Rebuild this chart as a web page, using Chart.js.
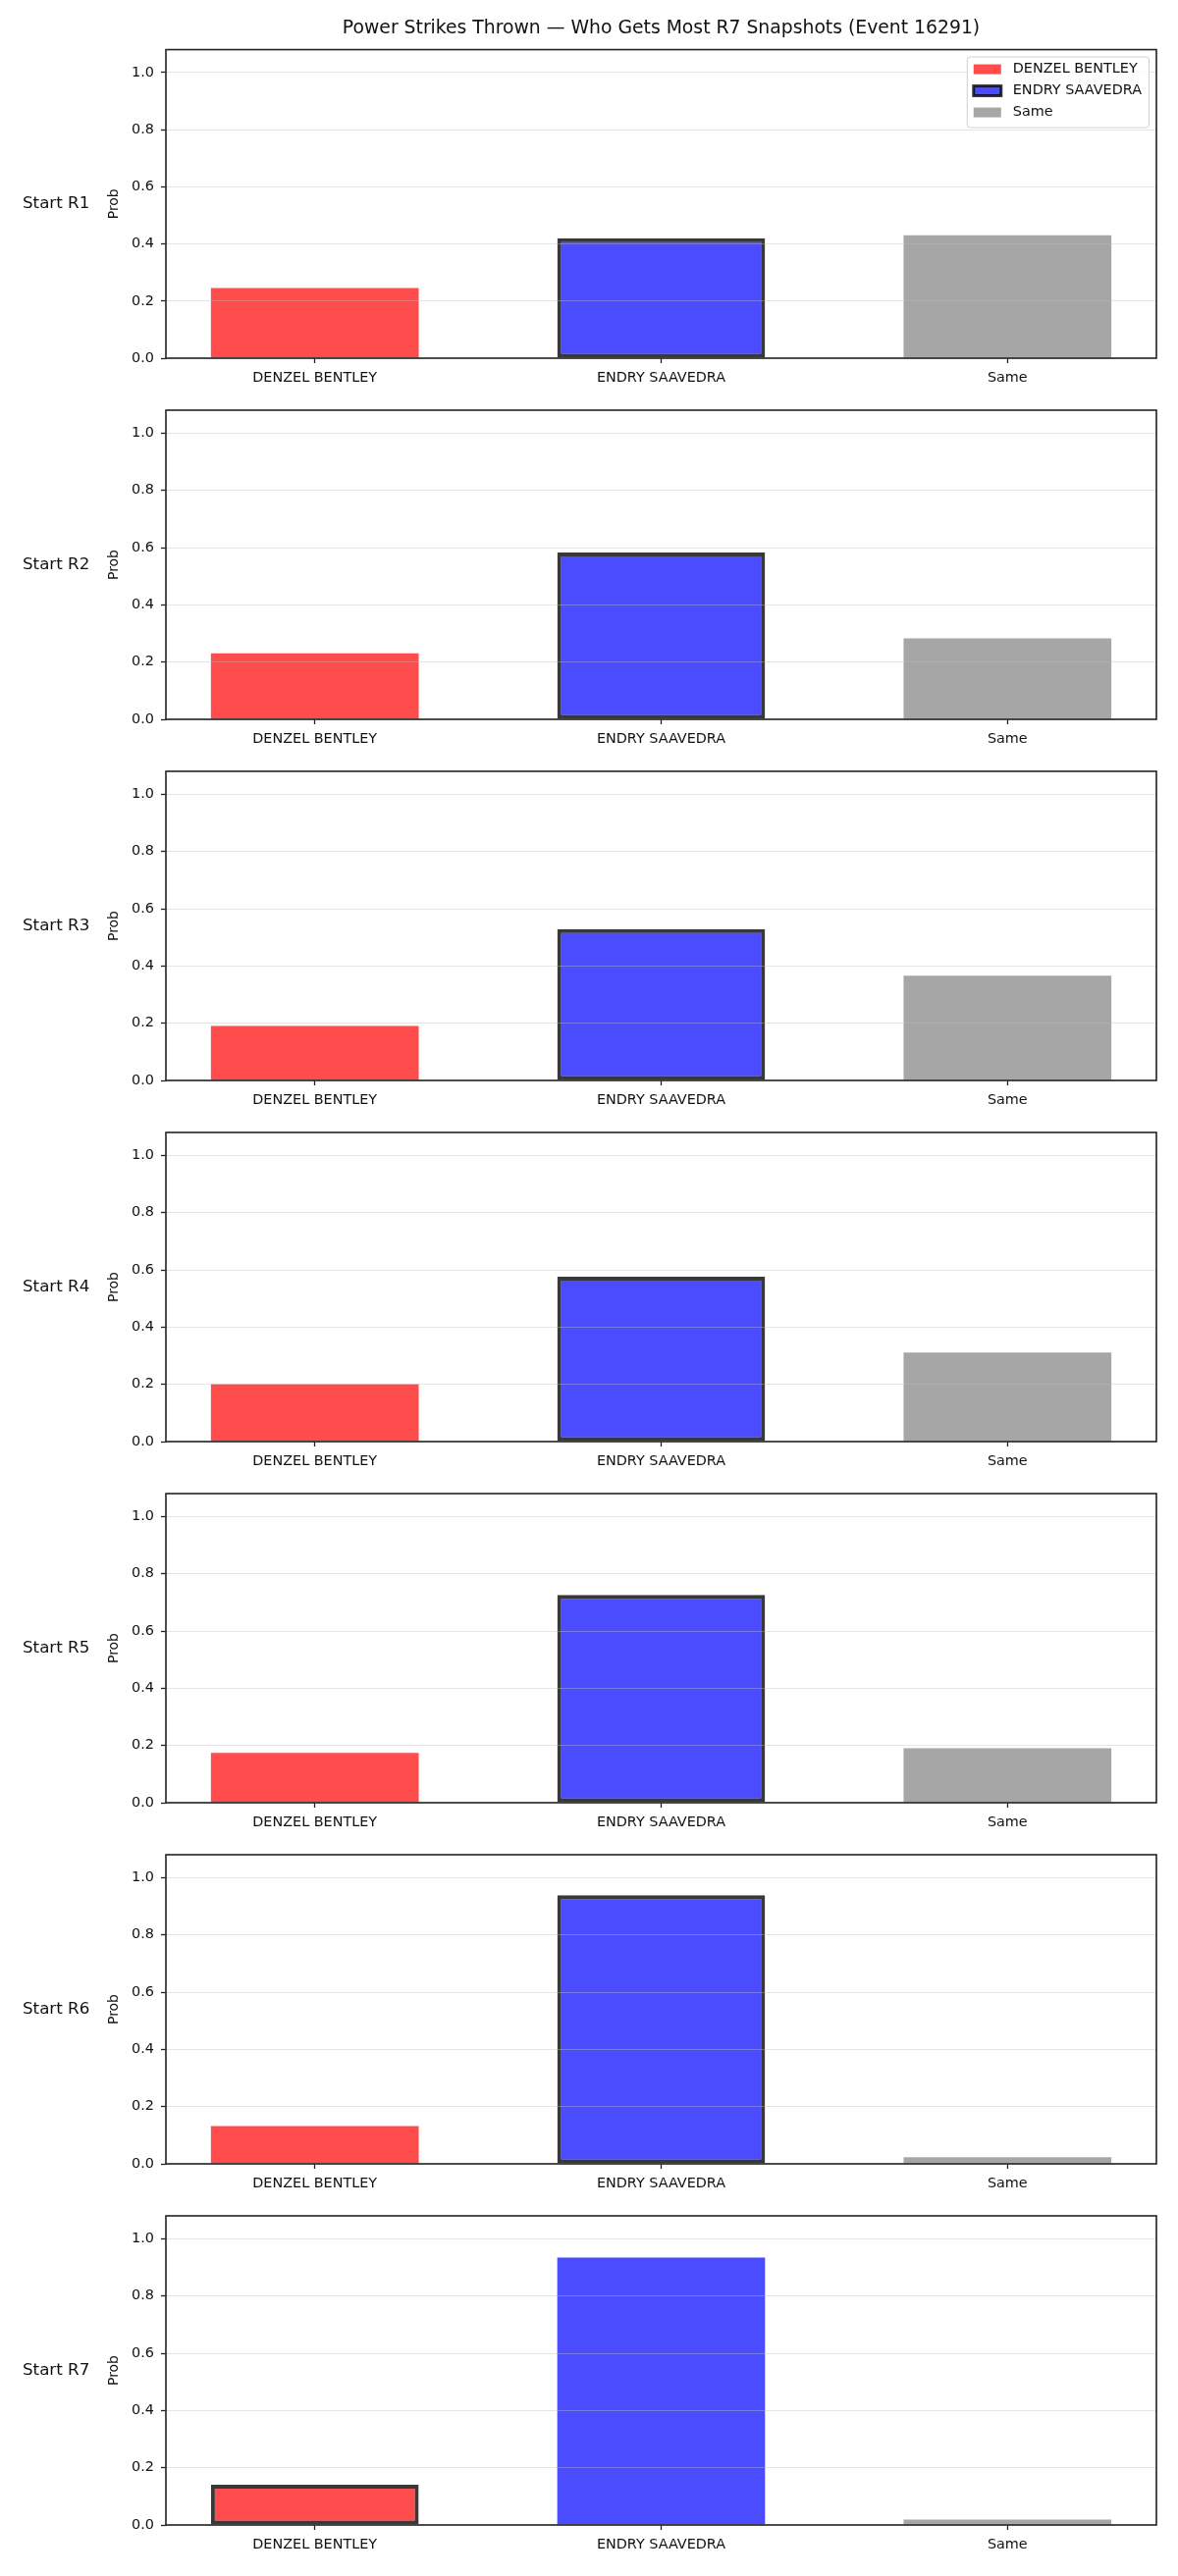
<!DOCTYPE html>
<html>
<head>
<meta charset="utf-8">
<title>Power Strikes Thrown</title>
<script src="https://cdn.jsdelivr.net/npm/chart.js@4.4.1/dist/chart.umd.min.js"></script>
<style>
    body { margin: 0; background: #fff; }
    #wrap { position: relative; width: 1200px; height: 2625px; }
    #wrap canvas { position: absolute; left: 0; }
</style>
</head>
<body>
<div id="wrap"></div>
<script>
// Data, one value per round
const categories = ['DENZEL BENTLEY', 'ENDRY SAAVEDRA', 'Same'];
const rounds = ['Start R1', 'Start R2', 'Start R3', 'Start R4', 'Start R5', 'Start R6', 'Start R7'];
const denzelProb = [0.246, 0.231, 0.190, 0.201, 0.174, 0.132, 0.141];
const endryProb = [0.420, 0.583, 0.529, 0.576, 0.726, 0.939, 0.934];
const sameProb = [0.430, 0.283, 0.366, 0.311, 0.190, 0.023, 0.019];
const highlighted = [1, 1, 1, 1, 1, 1, 0]; // bar drawn with a dark outline
const yTicks = [0, 0.2, 0.4, 0.6, 0.8, 1.0];

const TITLE = 'Power Strikes Thrown \u2014 Who Gets Most R7 Snapshots (Event 16291)';
const barColors = ['rgba(255, 0, 0, 0.7)', 'rgba(0, 0, 255, 0.7)', 'rgba(128, 128, 128, 0.7)'];
const outline = 'rgba(0, 0, 0, 0.78)';

const PANEL_TOP = 50, PANEL_STEP = 368, PLOT_H = 315, XAXIS_H = 43, PAD_TOP = 20;
const SMALL = 14.4;

Chart.defaults.font.family = "'DejaVu Sans', sans-serif";
Chart.defaults.font.size = SMALL;
Chart.defaults.color = '#111';

// box around the plot area
const framePlugin = {
    id: 'frame',
    afterDraw(chart) {
        const { ctx, chartArea: a } = chart;
        ctx.save();
        ctx.strokeStyle = '#222';
        ctx.lineWidth = 1.6;
        ctx.strokeRect(a.left, a.top, a.right - a.left, a.bottom - a.top);
        ctx.restore();
    }
};

// "Start Rn" label on the far left
const rowLabelPlugin = {
    id: 'rowLabel',
    afterDraw(chart, args, opts) {
        const { ctx, chartArea: a } = chart;
        ctx.save();
        ctx.font = "16.7px 'DejaVu Sans', sans-serif";
        ctx.fillStyle = '#111';
        ctx.textAlign = 'left';
        ctx.textBaseline = 'middle';
        ctx.fillText(opts.text, 23, (a.top + a.bottom) / 2);
        ctx.restore();
    }
};

// matplotlib-like legend box in the upper right of the first panel
const boxLegendPlugin = {
    id: 'boxLegend',
    afterDraw(chart, args, opts) {
        if (!opts.show) return;
        const { ctx, chartArea: a } = chart;
        ctx.save();
        ctx.font = SMALL + "px 'DejaVu Sans', sans-serif";
        const textW = Math.max(...categories.map(c => ctx.measureText(c).width));
        const w = 7 + 28 + 12 + textW + 7;
        const h = 72;
        const x = a.right - 8 - w;
        const y = a.top + 7;

        ctx.fillStyle = 'rgba(255, 255, 255, 0.85)';
        ctx.strokeStyle = '#d0d0d0';
        ctx.lineWidth = 1;
        ctx.beginPath();
        ctx.roundRect(x + 0.5, y + 0.5, w, h, 3);
        ctx.fill();
        ctx.stroke();

        categories.forEach((c, i) => {
            const cy = y + 13 + i * 22;
            ctx.fillStyle = barColors[i];
            ctx.fillRect(x + 7, cy - 5, 28, 10);
            if (i === opts.highlight) {
                ctx.strokeStyle = outline;
                ctx.lineWidth = 3;
                ctx.strokeRect(x + 7, cy - 5, 28, 10);
            }
            ctx.fillStyle = '#111';
            ctx.textAlign = 'left';
            ctx.textBaseline = 'middle';
            ctx.fillText(c, x + 47, cy);
        });
        ctx.restore();
    }
};

const wrap = document.getElementById('wrap');

rounds.forEach((label, r) => {
    const first = r === 0;
    const canvas = document.createElement('canvas');
    canvas.width = 1200;
    canvas.height = (first ? PANEL_TOP : PAD_TOP) + PLOT_H + XAXIS_H;
    canvas.style.top = (first ? 0 : PANEL_TOP + PANEL_STEP * r - PAD_TOP) + 'px';
    wrap.appendChild(canvas);

    const values = [denzelProb[r], endryProb[r], sameProb[r]];

    new Chart(canvas, {
        type: 'bar',
        data: {
            datasets: [{
                data: values.map((v, i) => ({ x: i, y: v })),
                backgroundColor: barColors,
                borderColor: outline,
                borderWidth: values.map((v, i) => i === highlighted[r] ? 4 : 0),
                borderSkipped: false,
                categoryPercentage: 1,
                barPercentage: 0.6
            }]
        },
        options: {
            responsive: false,
            animation: false,
            layout: { padding: { top: first ? 0 : PAD_TOP, right: 22, left: 0, bottom: 0 } },
            plugins: {
                legend: { display: false },
                tooltip: { enabled: false },
                title: {
                    display: first,
                    text: TITLE,
                    fullSize: false,
                    color: '#111',
                    font: { size: 18.8, weight: 'normal' },
                    padding: { top: 18, bottom: 10 }
                },
                rowLabel: { text: label },
                boxLegend: { show: first, highlight: highlighted[r] }
            },
            scales: {
                x: {
                    type: 'linear',
                    min: -0.43,
                    max: 2.43,
                    offset: false,
                    afterBuildTicks: s => { s.ticks = categories.map((c, i) => ({ value: i })); },
                    afterFit: s => { s.height = XAXIS_H; },
                    ticks: { callback: v => categories[v], padding: 7, maxRotation: 0, autoSkip: false },
                    grid: { offset: false, drawOnChartArea: false, tickLength: 5, tickColor: '#222', tickWidth: 1.3 },
                    border: { display: false }
                },
                y: {
                    min: 0,
                    max: 1.08,
                    afterBuildTicks: s => { s.ticks = yTicks.map(v => ({ value: v })); },
                    afterFit: s => { s.width = 169; },
                    ticks: { callback: v => v.toFixed(1), padding: 7 },
                    grid: { color: 'rgba(190, 190, 190, 0.4)', lineWidth: 1, tickLength: 5, tickColor: '#222', tickWidth: 1.3, z: 1 },
                    border: { display: false },
                    title: { display: true, text: 'Prob', padding: { top: 108, bottom: 0 }, font: { size: 13.9 } }
                }
            }
        },
        plugins: [framePlugin, rowLabelPlugin, boxLegendPlugin]
    });
});
</script>
</body>
</html>
